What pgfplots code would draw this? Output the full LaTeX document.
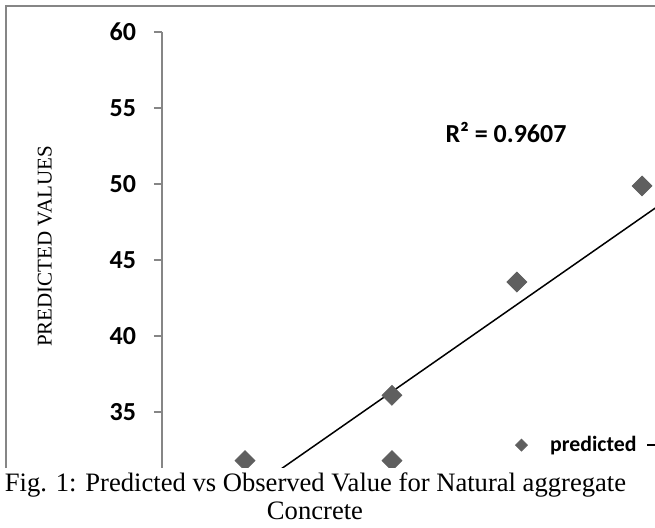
\documentclass[border=0pt]{standalone}
\usepackage{fontspec}
\setmainfont{Liberation Serif}
\newfontfamily\carlito{Carlito}
\usepackage{pgfplots}
\pgfplotsset{compat=1.18}
\definecolor{markgray}{RGB}{95,95,95}
\definecolor{axisgray}{RGB}{134,134,134}
\pgfplotsset{diamondlegend/.style={legend image code/.code={%
    \draw[##1, mark size=2.1pt] plot coordinates {(0pt,0pt)};
    \path[draw=none, fill=none] (-3pt,0pt) rectangle (12.4pt,0pt);}}}

\begin{document}
\begin{tikzpicture}
\useasboundingbox (0pt,0pt) rectangle (327.5pt,-263.5pt);
\clip (0pt,0pt) rectangle (327.5pt,-263.5pt);
\begin{axis}[
    at={(81pt,-16pt)}, anchor=north west,
    scale only axis,
    width=272.5pt, height=228pt,
    xmin=20, xmax=45, ymin=30, ymax=60,
    axis x line=none,
    axis y line=left,
    axis line style={-, draw=axisgray, line width=0.6pt},
    xtick=\empty,
    ytick={35,40,45,50,55,60},
    tick align=outside,
    major tick length=4pt,
    tick style={draw=axisgray, line width=0.6pt},
    /pgf/number format/assume math mode=true,
    yticklabel style={font=\carlito\bfseries\fontsize{13}{15}\selectfont, xshift=-5.5pt},
    ylabel={PREDICTED VALUES},
    ylabel style={font=\fontsize{10.5}{12}\selectfont, at={(axis description cs:-0.215,0.53)}, anchor=center},
    legend columns=2,
    legend style={draw=none, fill=none, at={(axis description cs:0.6367,0.094)}, anchor=west,
        font=\carlito\bfseries\fontsize{10.9}{12}\selectfont,
        /tikz/every even column/.append style={column sep=3pt}},
]
\addplot[only marks, mark=square*, mark size=3.5pt,
    mark options={rotate=45, fill=markgray, draw=markgray}, diamondlegend]
    coordinates {(23.81,31.8) (30.55,31.8) (30.55,36.1) (36.28,43.55) (42.02,49.87)};
\addlegendentry{predicted}
\addplot[black, line width=0.75pt, no marks] coordinates {(25,30.79) (45,50.79)};
\addlegendentry{Linear (predicted)}
\node[font=\carlito\bfseries\fontsize{13}{15}\selectfont] at (axis cs:35.78,53.42) {R² = 0.9607};
\end{axis}
\fill[white] (0pt,-234pt) rectangle (327.5pt,-263.5pt);
\draw[axisgray, line width=0.6pt] (3pt,-234pt) -- (3pt,-3pt) -- (330pt,-3pt);
\node[font=\fontsize{13.3}{14.5}\selectfont, anchor=base, inner sep=0pt] at (157.75pt,-245.5pt) {Fig. 1: Predicted vs Observed Value for Natural aggregate};
\node[font=\fontsize{13.3}{14.5}\selectfont, anchor=base, inner sep=0pt] at (157.5pt,-259.5pt) {Concrete};
\end{tikzpicture}
\end{document}
